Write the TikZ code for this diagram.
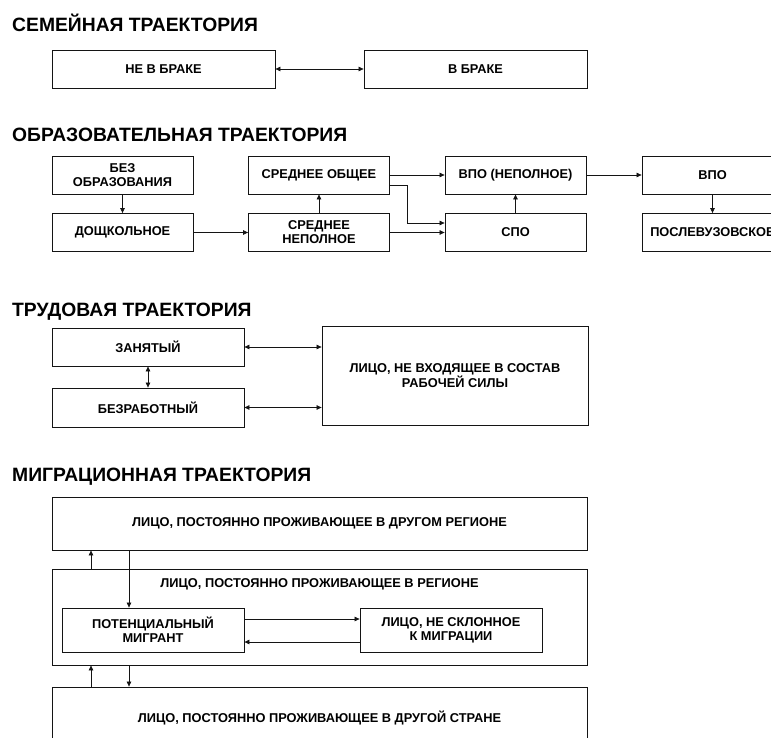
\documentclass[tikz,border=0pt]{standalone}
\usepackage{fontspec}
\setmainfont{Liberation Sans}
\usetikzlibrary{arrows.meta,calc,positioning}
\definecolor{FrameBlack}{RGB}{20,20,20}

\begin{document}
\begin{tikzpicture}[x=1pt,y=-1pt,>={Triangle[length=5pt,width=4.5pt]},
    box/.style={draw=FrameBlack,line width=0.8pt,align=center,inner sep=1pt,
      font=\fontsize{12.8}{14}\selectfont\bfseries},
    head/.style={anchor=base west,inner sep=0pt,
      font=\fontsize{19.3}{21}\selectfont\bfseries},
    lbl/.style={inner sep=0pt,font=\fontsize{12.8}{14}\selectfont\bfseries},
    arr/.style={->,line width=0.7pt,FrameBlack},
    dbl/.style={<->,line width=0.7pt,FrameBlack}]
  \useasboundingbox (0,0) rectangle (771,738);
  \clip (0,0) rectangle (771,738);

  % family
  \node[head] (famHead) at (12,32) {СЕМЕЙНАЯ ТРАЕКТОРИЯ};
  \node[box,minimum width=223pt,minimum height=38pt] (single) at (163.5,69) {НЕ В БРАКЕ};
  \node[box,minimum width=223pt,minimum height=38pt] (married) at (475.5,69) {В БРАКЕ};
  \draw[dbl] (single.east) -- (married.west);

  % education
  \node[head] (eduHead) at (12,142) {ОБРАЗОВАТЕЛЬНАЯ ТРАЕКТОРИЯ};
  \tikzset{edu/.style={box,minimum width=141pt,minimum height=38pt}}
  \node[edu] (noEdu) at (122.5,175) {БЕЗ\\ОБРАЗОВАНИЯ};
  \node[edu] (preSchool) at (122.5,232.5) {ДОЩКОЛЬНОЕ};
  \node[edu] (secGen) at (319,175) {СРЕДНЕЕ ОБЩЕЕ};
  \node[edu] (secInc) at (319,232.5) {СРЕДНЕЕ\\НЕПОЛНОЕ};
  \node[edu] (highInc) at (515.5,175) {ВПО (НЕПОЛНОЕ)};
  \node[edu] (voc) at (515.5,232.5) {СПО};
  \node[edu] (high) at (712.5,175) {ВПО};
  \node[edu] (postGrad) at (712.5,232.5) {ПОСЛЕВУЗОВСКОЕ};
  \coordinate (eduBend) at (407,223);
  \draw[arr] (noEdu) -- (preSchool);
  \draw[arr] (preSchool) -- (secInc);
  \draw[arr] (secInc) -- (secGen);
  \draw[arr] (secGen) -- (highInc);
  \draw[arr] ([yshift=-10pt]secGen.east) -| (eduBend) -- (eduBend -| voc.west);
  \draw[arr] (secInc) -- (voc);
  \draw[arr] (voc) -- (highInc);
  \draw[arr] (highInc) -- (high);
  \draw[arr] (high) -- (postGrad);

  % labour
  \node[head] (labHead) at (12,316) {ТРУДОВАЯ ТРАЕКТОРИЯ};
  \node[box,minimum width=192pt,minimum height=38pt] (employed) at (148,347) {ЗАНЯТЫЙ};
  \node[box,minimum width=192pt,minimum height=39pt] (unemployed) at (148,407.5) {БЕЗРАБОТНЫЙ};
  \node[box,minimum width=266pt,minimum height=99pt] (outside) at (455,375.5)
    {ЛИЦО, НЕ ВХОДЯЩЕЕ В СОСТАВ\\РАБОЧЕЙ СИЛЫ};
  \draw[dbl] (employed.east) -- (employed.east -| outside.west);
  \draw[dbl] (unemployed.east) -- (unemployed.east -| outside.west);
  \draw[dbl] (employed) -- (unemployed);

  % migration
  \node[head] (migHead) at (12,481) {МИГРАЦИОННАЯ ТРАЕКТОРИЯ};
  \node[box,minimum width=535pt,minimum height=53pt] (otherReg) at (319.5,523.5)
    {ЛИЦО, ПОСТОЯННО ПРОЖИВАЮЩЕЕ В ДРУГОМ РЕГИОНЕ};
  \node[box,minimum width=535pt,minimum height=96pt] (region) at (319.5,617) {};
  \node[lbl,below=10pt of region.north] (regionText) {ЛИЦО, ПОСТОЯННО ПРОЖИВАЮЩЕЕ В РЕГИОНЕ};
  \node[box,minimum width=182pt,minimum height=44pt] (potential) at (153,630)
    {ПОТЕНЦИАЛЬНЫЙ\\МИГРАНТ};
  \node[box,minimum width=182pt,minimum height=44pt] (nonMig) at (451,630)
    {ЛИЦО, НЕ СКЛОННОЕ\\К МИГРАЦИИ};
  \node[box,minimum width=535pt,minimum height=62pt] (abroad) at (319.5,718)
    {ЛИЦО, ПОСТОЯННО ПРОЖИВАЮЩЕЕ В ДРУГОЙ СТРАНЕ};
  \coordinate (upX) at (91,0);
  \coordinate (downX) at (129,0);
  \draw[arr] (upX |- region.north) -- (upX |- otherReg.south);
  \draw[arr] (downX |- otherReg.south) -- (downX |- potential.north);
  \draw[arr] ([yshift=11pt]potential.east) -- ([yshift=11pt]nonMig.west);
  \draw[arr] ([yshift=-12pt]nonMig.west) -- ([yshift=-12pt]potential.east);
  \draw[arr] (upX |- abroad.north) -- (upX |- region.south);
  \draw[arr] (downX |- region.south) -- (downX |- abroad.north);
\end{tikzpicture}
\end{document}
